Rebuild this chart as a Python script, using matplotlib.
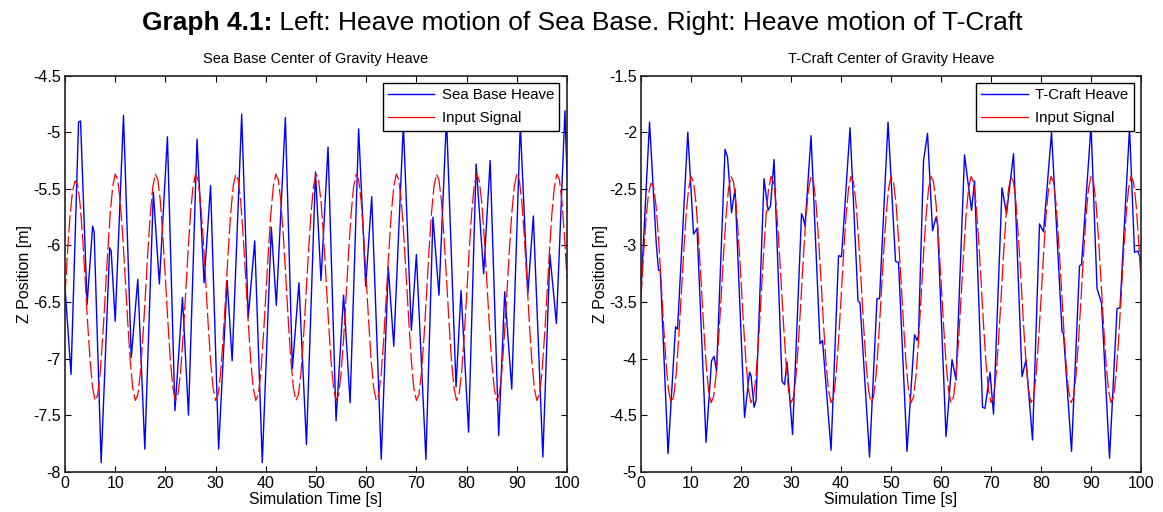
import numpy as np
import matplotlib
matplotlib.use("Agg")
from matplotlib import pyplot as plt

plt.rcParams['font.family'] = ['Liberation Sans', 'DejaVu Sans']
plt.rcParams['axes.unicode_minus'] = False

t_in = np.arange(0, 100.5, 0.5)
sb_input = [
    -6.45, -6.06, -5.74, -5.52, -5.43, -5.46, -5.63, -5.92, -6.29, -6.68, -7.02, -7.26, -7.37, -7.32, -7.13, -6.82,
    -6.45, -6.06, -5.72, -5.48, -5.37, -5.42, -5.61, -5.92, -6.29, -6.68, -7.02, -7.26, -7.37, -7.32, -7.13, -6.82,
    -6.45, -6.06, -5.72, -5.48, -5.37, -5.42, -5.61, -5.92, -6.29, -6.68, -7.02, -7.26, -7.37, -7.32, -7.13, -6.82,
    -6.45, -6.06, -5.72, -5.48, -5.37, -5.42, -5.61, -5.92, -6.29, -6.68, -7.02, -7.26, -7.37, -7.32, -7.13, -6.82,
    -6.45, -6.06, -5.72, -5.48, -5.37, -5.42, -5.61, -5.92, -6.29, -6.68, -7.02, -7.26, -7.37, -7.32, -7.13, -6.82,
    -6.45, -6.06, -5.72, -5.48, -5.37, -5.42, -5.61, -5.92, -6.29, -6.68, -7.02, -7.26, -7.37, -7.32, -7.13, -6.82,
    -6.45, -6.06, -5.72, -5.48, -5.37, -5.42, -5.61, -5.92, -6.29, -6.68, -7.02, -7.26, -7.37, -7.32, -7.13, -6.82,
    -6.45, -6.06, -5.72, -5.48, -5.37, -5.42, -5.61, -5.92, -6.29, -6.68, -7.02, -7.26, -7.37, -7.32, -7.13, -6.82,
    -6.45, -6.06, -5.72, -5.48, -5.37, -5.42, -5.61, -5.92, -6.29, -6.68, -7.02, -7.26, -7.37, -7.32, -7.13, -6.82,
    -6.45, -6.06, -5.72, -5.48, -5.37, -5.42, -5.61, -5.92, -6.29, -6.68, -7.02, -7.26, -7.37, -7.32, -7.13, -6.82,
    -6.45, -6.06, -5.72, -5.48, -5.37, -5.42, -5.61, -5.92, -6.29, -6.68, -7.02, -7.26, -7.37, -7.32, -7.13, -6.82,
    -6.45, -6.06, -5.72, -5.48, -5.37, -5.42, -5.61, -5.92, -6.29, -6.68, -7.02, -7.26, -7.37, -7.32, -7.13, -6.82,
    -6.45, -6.06, -5.72, -5.48, -5.37, -5.42, -5.61, -5.92, -6.29,
]
tc_input = [
    -3.47, -3.08, -2.76, -2.54, -2.45, -2.48, -2.65, -2.94, -3.31, -3.70, -4.04, -4.28, -4.39, -4.34, -4.15, -3.84,
    -3.47, -3.08, -2.74, -2.50, -2.39, -2.44, -2.63, -2.94, -3.31, -3.70, -4.04, -4.28, -4.39, -4.34, -4.15, -3.84,
    -3.47, -3.08, -2.74, -2.50, -2.39, -2.44, -2.63, -2.94, -3.31, -3.70, -4.04, -4.28, -4.39, -4.34, -4.15, -3.84,
    -3.47, -3.08, -2.74, -2.50, -2.39, -2.44, -2.63, -2.94, -3.31, -3.70, -4.04, -4.28, -4.39, -4.34, -4.15, -3.84,
    -3.47, -3.08, -2.74, -2.50, -2.39, -2.44, -2.63, -2.94, -3.31, -3.70, -4.04, -4.28, -4.39, -4.34, -4.15, -3.84,
    -3.47, -3.08, -2.74, -2.50, -2.39, -2.44, -2.63, -2.94, -3.31, -3.70, -4.04, -4.28, -4.39, -4.34, -4.15, -3.84,
    -3.47, -3.08, -2.74, -2.50, -2.39, -2.44, -2.63, -2.94, -3.31, -3.70, -4.04, -4.28, -4.39, -4.34, -4.15, -3.84,
    -3.47, -3.08, -2.74, -2.50, -2.39, -2.44, -2.63, -2.94, -3.31, -3.70, -4.04, -4.28, -4.39, -4.34, -4.15, -3.84,
    -3.47, -3.08, -2.74, -2.50, -2.39, -2.44, -2.63, -2.94, -3.31, -3.70, -4.04, -4.28, -4.39, -4.34, -4.15, -3.84,
    -3.47, -3.08, -2.74, -2.50, -2.39, -2.44, -2.63, -2.94, -3.31, -3.70, -4.04, -4.28, -4.39, -4.34, -4.15, -3.84,
    -3.47, -3.08, -2.74, -2.50, -2.39, -2.44, -2.63, -2.94, -3.31, -3.70, -4.04, -4.28, -4.39, -4.34, -4.15, -3.84,
    -3.47, -3.08, -2.74, -2.50, -2.39, -2.44, -2.63, -2.94, -3.31, -3.70, -4.04, -4.28, -4.39, -4.34, -4.15, -3.84,
    -3.47, -3.08, -2.74, -2.50, -2.39, -2.44, -2.63, -2.94, -3.31,
]

# heave responses: turning points (time, z)
sb_t = [0.0, 1.2, 2.7, 3.1, 4.4, 5.5, 5.8, 7.2, 8.9, 9.2, 10.0, 11.65, 13.2, 14.5, 15.9, 17.6, 18.8,
        20.4, 21.9, 23.4, 24.6, 26.3, 27.7, 29.0, 30.6, 32.3, 33.3, 35.2, 36.5, 37.8, 39.3, 41.1,
        42.1, 43.9, 45.3, 46.6, 48.1, 49.9, 51.0, 52.4, 54.0, 55.5, 56.8, 58.5, 59.9, 61.1, 63.0,
        64.4, 65.5, 67.4, 69.0, 70.0, 71.9, 73.3, 74.5, 76.0, 77.9, 78.9, 80.4, 81.9, 83.4, 84.7,
        86.4, 87.6, 89.0, 90.7, 92.2, 93.3, 95.2, 96.6, 97.9, 99.6, 100.0]
sb_heave = [-6.37, -7.14, -4.91, -4.90, -6.52, -5.83, -5.88, -7.92, -6.02, -6.05, -6.67, -4.85, -6.99,
            -6.30, -7.80, -5.53, -6.34, -5.04, -7.46, -6.46, -7.50, -5.06, -6.33, -5.47, -7.80, -6.31,
            -7.02, -4.84, -6.64, -5.96, -7.92, -5.84, -6.53, -4.87, -7.09, -6.33, -7.76, -5.35, -6.31,
            -5.13, -7.55, -6.44, -7.39, -4.97, -6.36, -5.57, -7.89, -6.19, -6.89, -4.93, -6.75, -6.08,
            -7.89, -5.75, -6.44, -4.87, -7.25, -6.40, -7.65, -5.28, -6.25, -5.25, -7.68, -6.41, -7.27,
            -4.93, -6.43, -5.74, -7.87, -6.08, -6.69, -4.81, -5.37]

tc_t = [0.0, 1.7, 3.05, 3.5, 3.85, 5.4, 6.9, 7.3, 9.35, 10.5, 11.2, 13.0, 14.1, 14.6, 15.1, 16.8,
        17.3, 18.1, 18.8, 20.7, 21.7, 22.0, 22.6, 23.0, 24.6, 25.4, 25.9, 26.6, 28.2, 28.7, 29.2,
        30.3, 32.1, 32.4, 32.8, 34.0, 35.8, 36.3, 38.0, 39.5, 40.1, 41.8, 43.4, 43.8, 45.7, 47.2,
        47.7, 49.4, 50.9, 51.5, 53.2, 54.7, 55.2, 55.5, 56.5, 57.3, 58.3, 59.0, 59.3, 61.0, 62.2,
        63.0, 64.7, 66.1, 66.7, 68.3, 68.8, 69.8, 70.5, 72.2, 73.1, 74.5, 76.2, 77.0, 78.3, 79.7,
        80.5, 82.1, 84.2, 84.5, 86.1, 87.7, 88.1, 90.0, 91.2, 92.1, 93.7, 95.2, 95.8, 97.7, 98.7,
        99.4, 100.0]
tc_heave = [-3.39, -1.91, -2.99, -3.22, -3.22, -4.84, -3.72, -3.74, -2.00, -2.90, -2.85, -4.74, -4.02,
            -3.98, -4.11, -2.15, -2.22, -2.71, -2.50, -4.52, -4.12, -4.15, -4.43, -4.37, -2.41, -2.69,
            -2.65, -2.24, -4.20, -4.23, -4.03, -4.67, -2.72, -2.75, -2.83, -2.03, -3.87, -3.84, -4.81,
            -3.09, -3.10, -1.96, -3.49, -3.51, -4.87, -3.47, -3.47, -1.91, -3.14, -3.15, -4.82, -3.79,
            -3.84, -3.79, -2.25, -2.01, -2.87, -2.75, -2.81, -4.69, -4.01, -4.19, -2.20, -2.69, -2.43,
            -4.43, -4.44, -4.12, -4.49, -2.49, -2.72, -2.19, -4.16, -4.01, -4.72, -2.81, -2.88, -2.00,
            -3.76, -3.78, -4.82, -3.18, -3.17, -1.94, -3.38, -3.51, -4.88, -3.56, -3.55, -1.96, -3.06,
            -3.05, -3.14]

sb_ticks = [-8, -7.5, -7, -6.5, -6, -5.5, -5, -4.5]
tc_ticks = [-5, -4.5, -4, -3.5, -3, -2.5, -2, -1.5]
x_ticks = list(range(0, 101, 10))

fig = plt.figure(figsize=(11.63, 5.12), dpi=100)
ax1 = fig.add_axes([0.0559, 0.0787, 0.4316, 0.7734])
ax2 = fig.add_axes([0.5512, 0.0787, 0.4299, 0.7734])

panels = [
    (ax1, sb_t, sb_heave, sb_input, sb_ticks, 'Sea Base Heave', 'Sea Base Center of Gravity Heave'),
    (ax2, tc_t, tc_heave, tc_input, tc_ticks, 'T-Craft Heave', 'T-Craft Center of Gravity Heave'),
]
for ax, tt, heave, inp, yt, lab, ttl in panels:
    ax.plot(tt, heave, color='#0000ff', lw=1.0, label=lab)
    ax.plot(t_in, inp, color='#ff0000', lw=0.9, dashes=(14, 3), label='Input Signal')
    ax.set_xlim(0, 100)
    ax.set_ylim(yt[0], yt[-1])
    ax.set_xticks(x_ticks)
    ax.set_yticks(yt)
    ax.set_yticklabels(['%g' % v for v in yt])
    ax.tick_params(direction='in', top=True, right=True, labelsize=11.5, length=4, width=0.8, pad=3)
    for sp in ax.spines.values():
        sp.set_linewidth(1.2)
        sp.set_color('#222222')
    ax.set_title(ttl, fontsize=10.5, pad=9)
    ax.set_xlabel('Simulation Time [s]', fontsize=11.3, labelpad=1)
    ax.set_ylabel('Z Position [m]', fontsize=11.5, labelpad=1)
    leg = ax.legend(loc='upper right', fontsize=10.8, fancybox=False, framealpha=1,
                    edgecolor='black', borderaxespad=0.5, handlelength=3.1, borderpad=0.35,
                    labelspacing=0.6, handletextpad=0.5)
    leg.get_frame().set_linewidth(1.0)
    for h in leg.get_lines():
        h.set_linestyle('-')

title_bold = 'Graph 4.1:'
title_rest = ' Left: Heave motion of Sea Base. Right: Heave motion of T-Craft'
t1 = fig.text(0, 0.955, title_bold, fontsize=19, fontweight='bold', va='center', ha='left')
t2 = fig.text(0, 0.955, title_rest, fontsize=19, va='center', ha='left')
fig.canvas.draw()
w1 = t1.get_window_extent().width
w2 = t2.get_window_extent().width
x0 = 582 - (w1 + w2) / 2
t1.set_x(x0 / fig.bbox.width)
t2.set_x((x0 + w1) / fig.bbox.width)

fig.savefig('out.png', dpi=100)
